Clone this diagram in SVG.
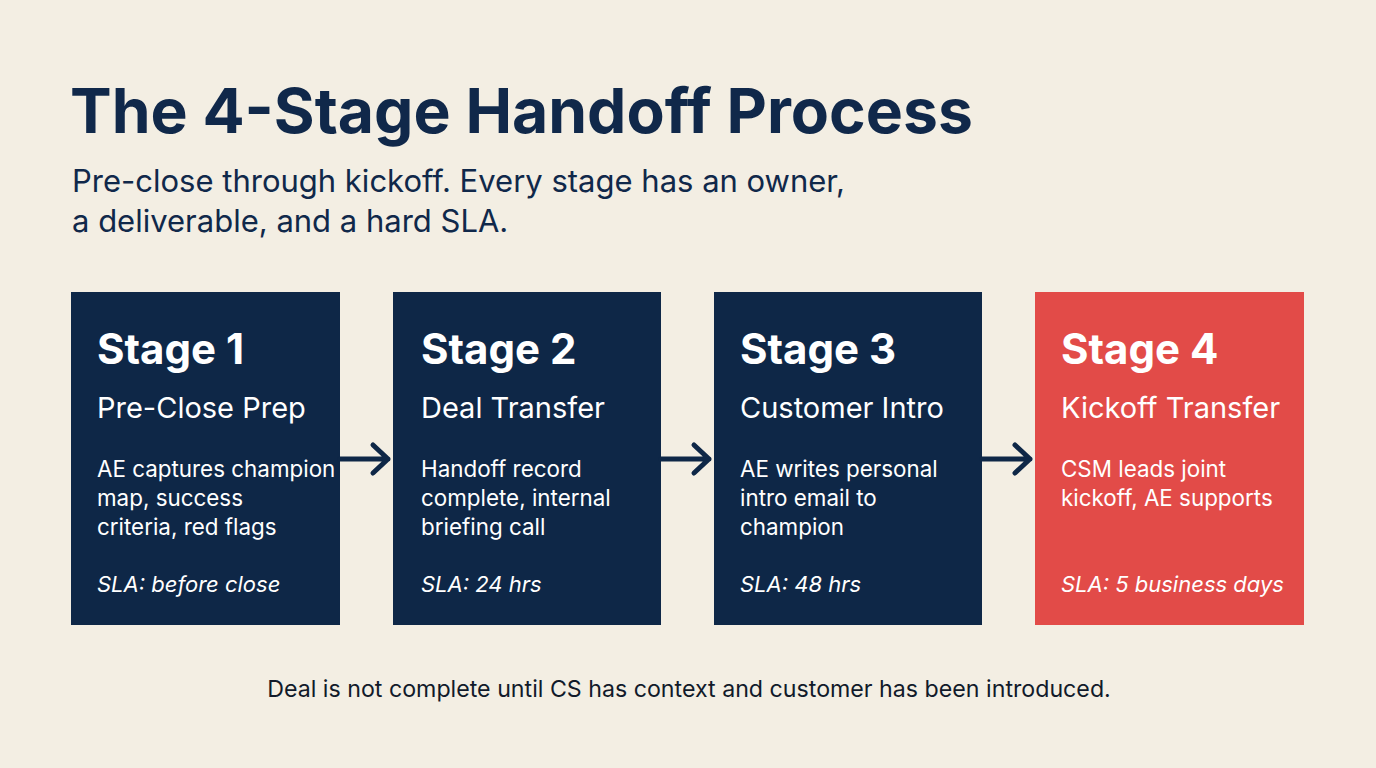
<svg xmlns="http://www.w3.org/2000/svg" width="1376" height="768" viewBox="0 0 1376 768">
<defs>
<style>
text{font-family:Inter,"Liberation Sans",sans-serif}
.title{font-size:62.4px;font-weight:700;fill:#10284a}
.sub{font-size:31px;fill:#10284a}
.box{fill:#0e2747}
.box.red{fill:#e24b48}
.h{font-size:42px;font-weight:700;fill:#fff}
.n{font-size:29px;fill:#fff}
.b{font-size:22.4px;fill:#fff}
.sla{font-size:22px;font-style:italic;fill:#fff}
.foot{font-size:23.2px;fill:#111a2a}
.conn{stroke:#0e2747;stroke-width:5;fill:none;stroke-linecap:round;stroke-linejoin:round}
</style>
</defs>
<rect width="1376" height="768" fill="#f3eee3"/>
<text class="title" x="70" y="133">The 4-Stage Handoff Process</text>
<text class="sub" x="72" y="192">Pre-close through kickoff. Every stage has an owner,</text>
<text class="sub" x="72" y="232">a deliverable, and a hard SLA.</text>
<g id="stage1">
<rect class="box" x="71" y="292" width="269" height="333"/>
<text class="h" x="97" y="364">Stage 1</text>
<text class="n" x="97" y="418">Pre-Close Prep</text>
<text class="b" x="97" y="477">AE captures champion</text>
<text class="b" x="97" y="506">map, success</text>
<text class="b" x="97" y="535">criteria, red flags</text>
<text class="sla" x="97" y="592">SLA: before close</text>
</g>
<g id="stage2">
<rect class="box" x="393" y="292" width="268" height="333"/>
<text class="h" x="421" y="364">Stage 2</text>
<text class="n" x="421" y="418">Deal Transfer</text>
<text class="b" x="421" y="477">Handoff record</text>
<text class="b" x="421" y="506">complete, internal</text>
<text class="b" x="421" y="535">briefing call</text>
<text class="sla" x="421" y="592">SLA: 24 hrs</text>
</g>
<g id="stage3">
<rect class="box" x="714" y="292" width="268" height="333"/>
<text class="h" x="740" y="364">Stage 3</text>
<text class="n" x="740" y="418">Customer Intro</text>
<text class="b" x="740" y="477">AE writes personal</text>
<text class="b" x="740" y="506">intro email to</text>
<text class="b" x="740" y="535">champion</text>
<text class="sla" x="740" y="592">SLA: 48 hrs</text>
</g>
<g id="stage4">
<rect class="box red" x="1035" y="292" width="269" height="333"/>
<text class="h" x="1061" y="364">Stage 4</text>
<text class="n" x="1061" y="418">Kickoff Transfer</text>
<text class="b" x="1061" y="477">CSM leads joint</text>
<text class="b" x="1061" y="506">kickoff, AE supports</text>
<text class="sla" x="1061" y="592">SLA: 5 business days</text>
</g>
<g id="connectors">
<path class="conn" d="M340 459 H388 M373 445 L388 459 L373 473"/>
<path class="conn" d="M661 459 H709 M694 445 L709 459 L694 473"/>
<path class="conn" d="M982 459 H1030 M1015 445 L1030 459 L1015 473"/>
</g>
<text class="foot" x="689" y="697" text-anchor="middle">Deal is not complete until CS has context and customer has been introduced.</text>
</svg>
